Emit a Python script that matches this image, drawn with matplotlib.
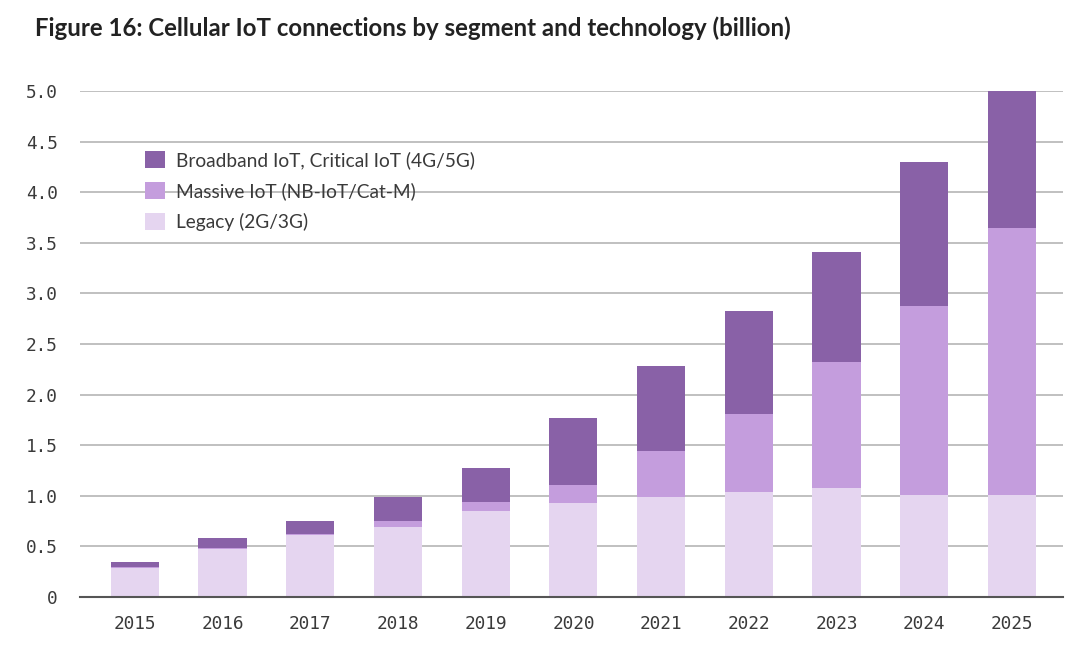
import matplotlib.pyplot as plt
import numpy as np

# data (billion connections)
years = ['2015', '2016', '2017', '2018', '2019', '2020', '2021', '2022', '2023', '2024', '2025']
legacy = [0.29, 0.47, 0.61, 0.69, 0.85, 0.93, 0.99, 1.04, 1.08, 1.01, 1.01]
massive = [0.01, 0.01, 0.01, 0.06, 0.09, 0.18, 0.45, 0.77, 1.24, 1.87, 2.64]
broadband = [0.05, 0.10, 0.13, 0.24, 0.33, 0.66, 0.84, 1.02, 1.09, 1.42, 1.35]

labels = ['Broadband IoT, Critical IoT (4G/5G)', 'Massive IoT (NB-IoT/Cat-M)', 'Legacy (2G/3G)']
colors = ['#8961a7', '#c49ddd', '#e5d5f0']

fig = plt.figure(figsize=(10.8, 6.6), dpi=100)
ax = fig.add_axes([0.074, 0.0955, 0.91, 0.7665])

x = np.arange(len(years))
w = 0.55
b1 = ax.bar(x, legacy, w, color=colors[2], label=labels[2], zorder=2)
b2 = ax.bar(x, massive, w, bottom=legacy, color=colors[1], label=labels[1], zorder=2)
bottom2 = np.array(legacy) + np.array(massive)
b3 = ax.bar(x, broadband, w, bottom=bottom2, color=colors[0], label=labels[0], zorder=2)

ax.set_ylim(0, 5.0)
ax.set_xlim(-0.627, 10.58)
ax.set_yticks(np.arange(0, 5.01, 0.5))
ax.set_yticklabels(['0'] + [f'{v:.1f}' for v in np.arange(0.5, 5.01, 0.5)])
ax.set_xticks(x)
ax.set_xticklabels(years)

for lab in ax.get_xticklabels() + ax.get_yticklabels():
    lab.set_family('DejaVu Sans Mono')
    lab.set_fontsize(12.8)
    lab.set_color('#3a3a3a')

ax.tick_params(axis='both', length=0)
ax.tick_params(axis='y', pad=16)
ax.tick_params(axis='x', pad=13)
ax.grid(axis='y', color='#bbbbbb', linewidth=1.3, zorder=1)
for s in ['top', 'right', 'left']:
    ax.spines[s].set_visible(False)
ax.spines['bottom'].set_color('#555555')
ax.spines['bottom'].set_linewidth(1.5)
ax.spines['bottom'].set_zorder(3)

leg = ax.legend(handles=[b3, b2, b1], loc='upper left', bbox_to_anchor=(0.056, 0.901),
                frameon=False, prop={'family': 'Lato', 'size': 13.8}, borderpad=0,
                handlelength=1.05, handleheight=1.0, handletextpad=0.6, labelspacing=0.68)
for t in leg.get_texts():
    t.set_color('#3a3a3a')

fig.text(0.032, 0.958, 'Figure 16: Cellular IoT connections by segment and technology (billion)',
         family='Lato', weight='bold', fontsize=17.3, color='#222222', va='center')

fig.savefig('out.png', dpi=100)
